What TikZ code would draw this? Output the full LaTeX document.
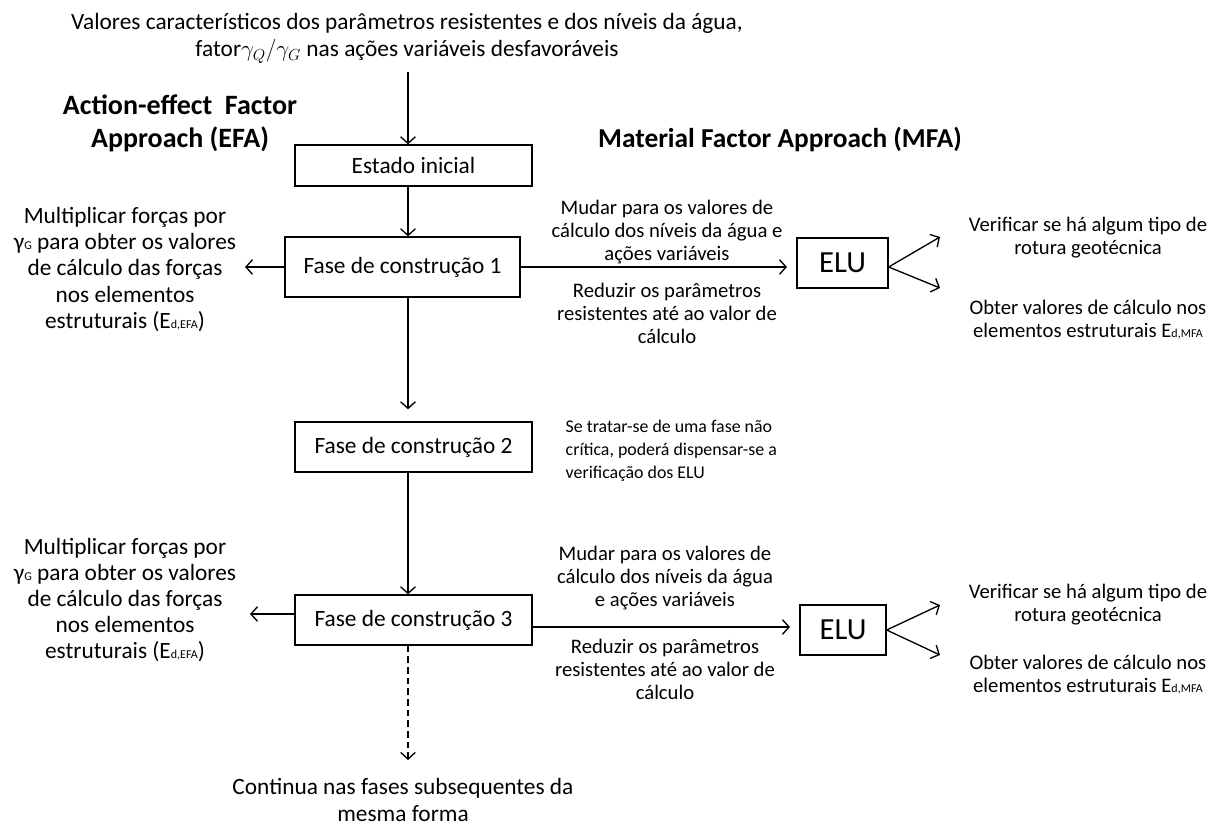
\documentclass[tikz,border=0pt]{standalone}
\usepackage{fontspec}
\setmainfont{Carlito}
\usetikzlibrary{arrows.meta}

\tikzset{
  box/.style={draw, line width=1pt, inner sep=0pt, font=\fontsize{17.5}{20}\selectfont},
  elubox/.style={draw, line width=1pt, inner sep=0pt, font=\fontsize{23}{24}\selectfont},
  flow/.style={-{Straight Barb[length=5pt,width=11pt]}, line width=1pt},
  big/.style={align=center, font=\fontsize{17.5}{19.6}\selectfont},
  small/.style={align=center, font=\fontsize{15.5}{17.3}\selectfont},
  head/.style={align=center, font=\fontsize{21}{25}\selectfont\bfseries}
}
\newcommand{\gG}{γ{\small G}}
\newcommand{\Edx}[1]{E{\small d,#1}}

\begin{document}
\begin{tikzpicture}[x=0.75pt, y=-0.75pt]
\useasboundingbox (0,0) rectangle (1210,828);

%titles
\node[big, font=\fontsize{17.5}{20}\selectfont] (topo) at (407,38.5) {Valores caracter\'isticos dos par\^ametros resistentes e dos n\'iveis da \'agua,\\
  fator$\gamma_Q/\gamma_G$ nas a\c{c}\~oes vari\'aveis desfavor\'aveis};
\node[head] (efa) at (180,123.5) {Action-effect\ \ Factor\\Approach (EFA)};
\node[head, font=\fontsize{20.5}{25}\selectfont\bfseries] (mfa) at (780,140) {Material Factor Approach (MFA)};

%main column
\node[box, minimum width=177.75pt, minimum height=30.75pt] (inicio) at (413.5,165.5) {Estado inicial};
\node[box, minimum width=176.25pt, minimum height=45pt] (fase1) at (402.5,267) {Fase de constru\c{c}\~ao 1};
\node[box, minimum width=177.75pt, minimum height=37.5pt] (fase2) at (413.5,447) {Fase de constru\c{c}\~ao 2};
\node[box, minimum width=177.75pt, minimum height=37.5pt] (fase3) at (413.5,620) {Fase de constru\c{c}\~ao 3};
\coordinate (entrada) at (408,72);
\coordinate (fim) at (408,760);

\draw[flow] (entrada) -- (entrada |- inicio.north);
\draw[flow] (inicio.south -| entrada) -- (entrada |- fase1.north);
\draw[flow, shorten >=9pt] (fase1.south -| entrada) -- (entrada |- fase2.north);
\draw[flow] (fase2.south -| entrada) -- (entrada |- fase3.north);
\draw[flow, dash pattern=on 5pt off 3pt] (fase3.south -| entrada) -- (fim);
\node[big] (continua) at (403,800) {Continua nas fases subsequentes da\\mesma forma};

%EFA side
\coordinate (e1) at (245,267);
\coordinate (e3) at (250,614);
\draw[flow] (fase1.west |- e1) -- (e1);
\draw[flow] (fase3.west |- e3) -- (e3);
\node[big] (efa1) at (125,269.5) {Multiplicar for\c{c}as por\\\gG{} para obter os valores\\de c\'alculo das for\c{c}as\\nos elementos\\estruturais (\Edx{EFA})};
\node[big] (efa3) at (125,600) {Multiplicar for\c{c}as por\\\gG{} para obter os valores\\de c\'alculo das for\c{c}as\\nos elementos\\estruturais (\Edx{EFA})};

%MFA side, fase 1
\node[elubox, minimum width=68.25pt, minimum height=37.5pt] (elu1) at (842.5,263) {ELU};
\draw[flow, shorten >=7pt] (fase1.east) -- (elu1.west |- fase1.east);
\node[small] (mudar1) at (667,232) {Mudar para os valores de\\c\'alculo dos n\'iveis da \'agua e\\a\c{c}\~oes vari\'aveis};
\node[small] (reduzir1) at (667,313) {Reduzir os par\^ametros\\resistentes at\'e ao valor de\\c\'alculo};
\coordinate (v1) at (940,237);
\coordinate (o1) at (940,288);
\draw[flow] (elu1.east |- fase1.east) -- (v1);
\draw[flow] (elu1.east |- fase1.east) -- (o1);
\node[small] (verif1) at (1088,238) {Verificar se h\'a algum tipo de\\rotura geot\'ecnica};
\node[small] (obter1) at (1088,320) {Obter valores de c\'alculo nos\\elementos estruturais \Edx{MFA}};

%fase 2 note
\node[align=left, anchor=west, font=\fontsize{13.4}{17.3}\selectfont] (nota) at (561,451) {Se tratar-se de uma fase n\~ao\\cr\'itica, poder\'a dispensar-se a\\verifica\c{c}\~ao dos ELU};

%MFA side, fase 3
\coordinate (d3) at (532,627);
\node[elubox, minimum width=64.5pt, minimum height=37.5pt] (elu3) at (843,630) {ELU};
\draw[flow, shorten >=7pt] (d3) -- (elu3.west |- d3);
\node[small] (mudar3) at (665,578) {Mudar para os valores de\\c\'alculo dos n\'iveis da \'agua\\e a\c{c}\~oes vari\'aveis};
\node[small] (reduzir3) at (665,669) {Reduzir os par\^ametros\\resistentes at\'e ao valor de\\c\'alculo};
\coordinate (v3) at (940,605);
\coordinate (o3) at (940,655);
\draw[flow] (elu3.east) -- (v3);
\draw[flow] (elu3.east) -- (o3);
\node[small] (verif3) at (1088,604.5) {Verificar se h\'a algum tipo de\\rotura geot\'ecnica};
\node[small] (obter3) at (1088,674.5) {Obter valores de c\'alculo nos\\elementos estruturais \Edx{MFA}};
\end{tikzpicture}
\end{document}
